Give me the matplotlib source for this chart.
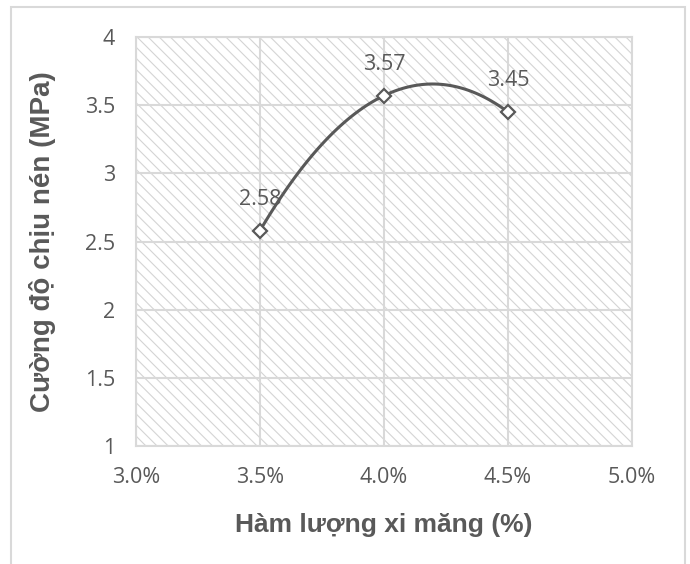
import numpy as np
import matplotlib.pyplot as plt
from matplotlib.patches import Rectangle

# Cường độ chịu nén theo hàm lượng xi măng
ham_luong = np.array([0.035, 0.040, 0.045])
cuong_do = np.array([2.58, 3.57, 3.45])
x_ticks = [0.030, 0.035, 0.040, 0.045, 0.050]
x_tick_labels = ["3.0%", "3.5%", "4.0%", "4.5%", "5.0%"]
y_ticks = [1, 1.5, 2, 2.5, 3, 3.5, 4]
y_tick_labels = ["1", "1.5", "2", "2.5", "3", "3.5", "4"]

XMIN, XMAX, YMIN, YMAX = 0.030, 0.050, 1, 4
GREY = "#595959"
GRID = "#d9d9d9"

plt.rcParams["hatch.linewidth"] = 0.8
plt.rcParams["hatch.color"] = "#d4d4d4"

fig = plt.figure(figsize=(6.9, 5.64), dpi=100)
ax = fig.add_axes([136 / 690, 1 - 446 / 564, 496 / 690, 409 / 564])

# nền gạch chéo
ax.add_patch(Rectangle((0, 0), 1, 1, transform=ax.transAxes, facecolor="white",
                       edgecolor="#d4d4d4", hatch="\\\\\\", linewidth=0, zorder=0))


def duong_cong_tron(x, y, n=60):
    # đường cong Hermite trơn, tính trong không gian pixel của trục
    w, h = 496, 409
    px = (x - XMIN) / (XMAX - XMIN) * w
    py = (y - YMIN) / (YMAX - YMIN) * h
    P = np.column_stack([px, py])
    m = len(P)
    T = np.zeros_like(P)
    for i in range(1, m - 1):
        T[i] = (P[i + 1] - P[i - 1]) / 2
    T[0] = 2 * (P[1] - P[0]) - T[1]
    T[-1] = 2 * (P[-1] - P[-2]) - T[-2]
    out = []
    t = np.linspace(0, 1, n)[:, None]
    for i in range(m - 1):
        c1 = P[i] + T[i] / 3
        c2 = P[i + 1] - T[i + 1] / 3
        seg = ((1 - t) ** 3) * P[i] + 3 * ((1 - t) ** 2) * t * c1 \
            + 3 * (1 - t) * t ** 2 * c2 + t ** 3 * P[i + 1]
        out.append(seg)
    out = np.vstack(out)
    return (out[:, 0] / w * (XMAX - XMIN) + XMIN,
            out[:, 1] / h * (YMAX - YMIN) + YMIN)


cx, cy = duong_cong_tron(ham_luong, cuong_do)
ax.plot(cx, cy, color=GREY, lw=2.2, zorder=3, solid_capstyle="round")
ax.plot(ham_luong, cuong_do, linestyle="none", marker="D", markersize=7.5,
        markerfacecolor="white", markeredgecolor=GREY, markeredgewidth=1.6, zorder=4)

for xv, yv in zip(ham_luong, cuong_do):
    ax.annotate(f"{yv:.2f}", (xv, yv), xytext=(0, 22.5), textcoords="offset points",
                ha="center", va="center", fontsize=15.5, color=GREY,
                family="Open Sans", zorder=5)

ax.set_xlim(XMIN, XMAX)
ax.set_ylim(YMIN, YMAX)
ax.set_xticks(x_ticks)
ax.set_xticklabels(x_tick_labels)
ax.set_yticks(y_ticks)
ax.set_yticklabels(y_tick_labels)
ax.tick_params(length=0, labelsize=15.5, labelcolor=GREY, pad=15)
for lab in ax.get_xticklabels() + ax.get_yticklabels():
    lab.set_family("Open Sans")
ax.grid(True, color=GRID, lw=1.5, zorder=1)
ax.set_axisbelow(True)
for s in ax.spines.values():
    s.set_color(GRID)
    s.set_linewidth(1.5)

ax.set_xlabel("Hàm lượng xi măng (%)", fontsize=19, fontweight="bold",
              color=GREY, family="Liberation Sans", labelpad=18)
ax.set_ylabel("Cường độ chịu nén (MPa)", fontsize=20, fontweight="bold",
              color=GREY, family="Liberation Sans", labelpad=21)

# khung ngoài của biểu đồ
fig.add_artist(Rectangle((11 / 690, -0.05), 674 / 690, 1.05 - 7 / 564,
                         transform=fig.transFigure, fill=False,
                         edgecolor=GRID, linewidth=1.5))

fig.savefig("out.png", dpi=100)
